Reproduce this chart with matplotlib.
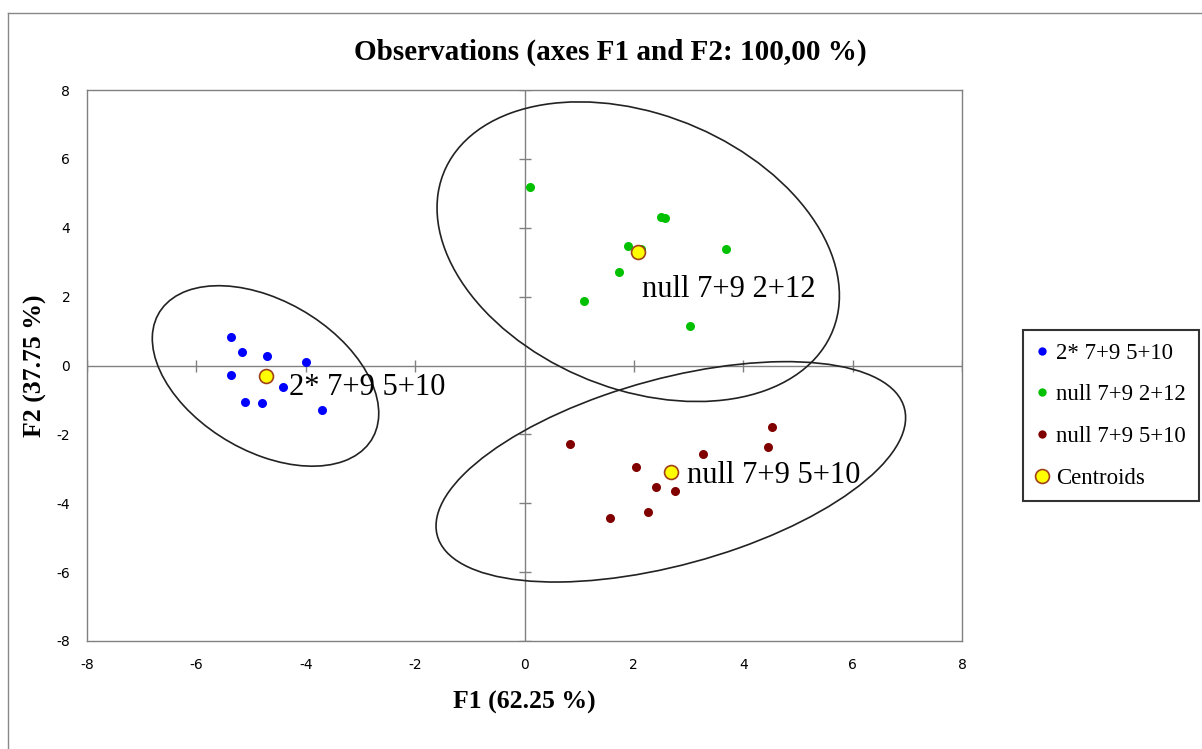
import numpy as np
import matplotlib
matplotlib.use("Agg")
import matplotlib.pyplot as plt
from matplotlib.patches import Ellipse
from matplotlib.lines import Line2D

# ---- data ----
blue_x = [-5.37, -5.16, -4.70, -4.00, -5.37, -5.11, -4.80, -4.41, -3.70]
blue_y = [0.84, 0.40, 0.28, 0.10, -0.29, -1.06, -1.10, -0.62, -1.28]
green_x = [0.095, 2.50, 2.57, 1.89, 2.13, 3.69, 1.72, 1.09, 3.03]
green_y = [5.17, 4.32, 4.28, 3.47, 3.38, 3.39, 2.72, 1.87, 1.14]
red_x = [0.84, 2.03, 3.26, 4.53, 4.46, 2.40, 2.75, 2.25, 1.56]
red_y = [-2.27, -2.95, -2.57, -1.79, -2.36, -3.54, -3.64, -4.24, -4.43]
group_names = ["2* 7+9 5+10", "null 7+9 2+12", "null 7+9 5+10"]
ticks = [-8, -6, -4, -2, 0, 2, 4, 6, 8]
F_CRIT = 4.737  # F(2, 7, 0.95) for 95% ellipses with n = 9

colors = ["#0000FF", "#00C000", "#800000"]
label_offsets = [(23, -12), (4, -38), (16, -4)]

fig = plt.figure(figsize=(12.02, 7.49), dpi=100)
ax = fig.add_axes([87/1202, 1-641/749, 875/1202, 551/749])

serif = ["Liberation Serif", "DejaVu Serif"]

groups = [(blue_x, blue_y), (green_x, green_y), (red_x, red_y)]
for (gx, gy), c, name, off in zip(groups, colors, group_names, label_offsets):
    gx = np.array(gx); gy = np.array(gy)
    n = len(gx)
    ax.plot(gx, gy, 'o', color=c, markersize=6.5, markeredgewidth=0, zorder=4, label=name)
    mx, my = gx.mean(), gy.mean()
    cov = np.cov(gx, gy)
    vals, vecs = np.linalg.eigh(cov)
    k = np.sqrt(2 * (n - 1) * (n + 1) / (n * (n - 2)) * F_CRIT)
    angle = np.degrees(np.arctan2(vecs[1, 1], vecs[0, 1]))
    ell = Ellipse((mx, my), 2 * k * np.sqrt(vals[1]), 2 * k * np.sqrt(vals[0]),
                  angle=angle, fill=False, edgecolor='#222222', linewidth=1.2, zorder=3)
    ax.add_patch(ell)
    ax.plot([mx], [my], 'o', markerfacecolor='#FFFF00', markeredgecolor='#A0401A',
            markersize=10, markeredgewidth=1.2, zorder=6)
    ax.annotate(name, (mx, my), xytext=off, textcoords='offset pixels',
                ha='left', va='center', fontsize=22, family=serif, zorder=7)

ax.set_xlim(-8, 8)
ax.set_ylim(-8, 8)
ax.axhline(0, color='#808080', lw=1, zorder=1)
ax.axvline(0, color='#808080', lw=1, zorder=1)
tick_nz = [t for t in ticks if t != 0]
ax.plot(tick_nz, [0]*len(tick_nz), linestyle='none', marker='|', color='#808080',
        markersize=8, markeredgewidth=1, zorder=1)
ax.plot([0]*len(tick_nz), tick_nz, linestyle='none', marker='_', color='#808080',
        markersize=8, markeredgewidth=1, zorder=1)

ax.set_xticks(ticks)
ax.set_yticks(ticks)
ax.set_xticklabels([str(t) for t in ticks])
ax.set_yticklabels([str(t) for t in ticks])
ax.tick_params(length=0, labelsize=10, pad=12)
for s in ax.spines.values():
    s.set_color('#808080')
    s.set_linewidth(1)

fig.text(610/1202, 1-52/749, "Observations (axes F1 and F2: 100,00 %)",
         ha='center', va='center', fontsize=21, fontweight='bold', family=serif)
fig.text(524/1202, 1-702/749, "F1 (62.25 %)", ha='center', va='center',
         fontsize=18.5, fontweight='bold', family=serif)
fig.text(35/1202, 1-366/749, "F2 (37.75 %)", ha='center', va='center',
         fontsize=18.5, fontweight='bold', family=serif, rotation=90)

handles = [Line2D([], [], linestyle='none', marker='o', color=c, markersize=6,
                  markeredgewidth=0) for c in colors]
handles.append(Line2D([], [], linestyle='none', marker='o', markerfacecolor='#FFFF00',
                      markeredgecolor='#A0401A', markersize=10, markeredgewidth=1.2))
leg = fig.legend(handles, group_names + ["Centroids"], loc='upper left',
                 bbox_to_anchor=(1023/1202, 1-330/749), prop={'family': serif, 'size': 16.5},
                 frameon=True, fancybox=False, edgecolor='black', handlelength=0.6,
                 handletextpad=0.3, labelspacing=0.9, borderpad=0.55, borderaxespad=0)
leg.get_frame().set_linewidth(1.5)

# chart area border
fig.add_artist(Line2D([8/1202, 1], [1-13/749, 1-13/749], color='#888888', lw=1,
                      transform=fig.transFigure))
fig.add_artist(Line2D([8/1202, 8/1202], [0, 1-13/749], color='#888888', lw=1,
                      transform=fig.transFigure))

fig.savefig("out.png", dpi=100)
